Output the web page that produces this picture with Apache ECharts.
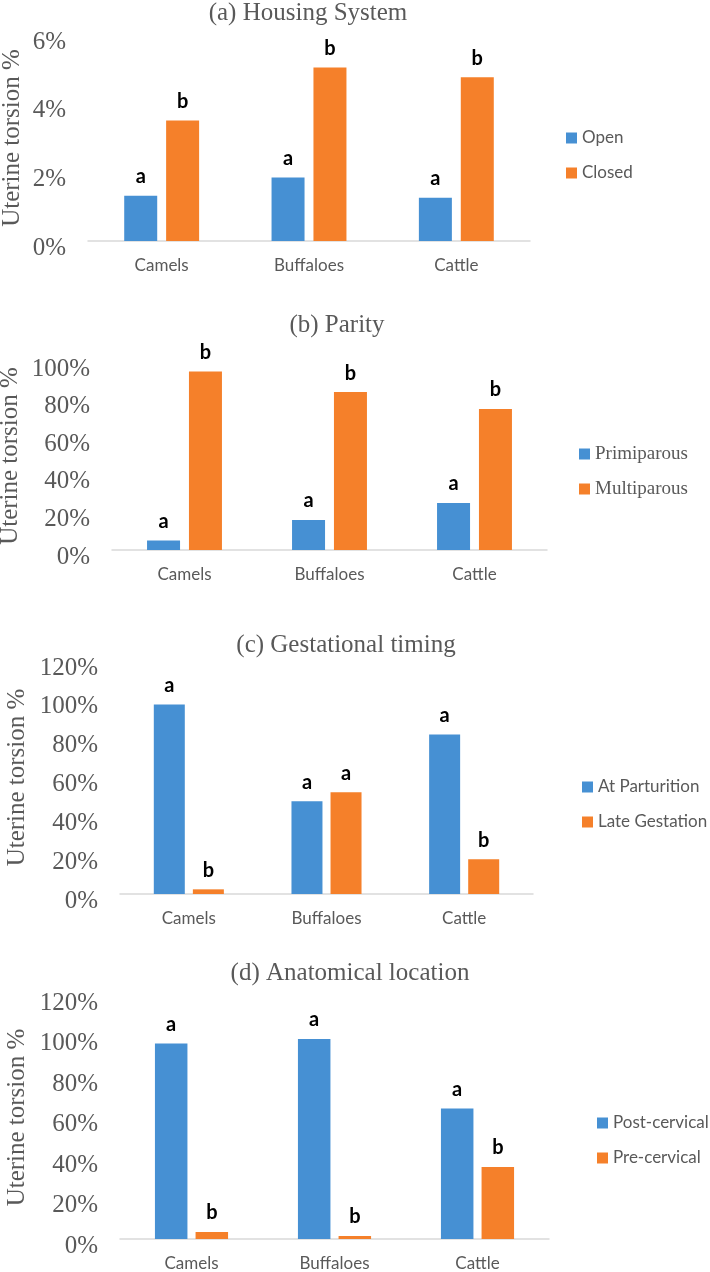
<!DOCTYPE html>
<html>
<head>
<meta charset="utf-8">
<script src="https://cdn.jsdelivr.net/npm/echarts@6/dist/echarts.min.js"></script>
<style>
html, body { margin: 0; padding: 0; background: #fff; }
#chart { width: 710px; height: 1272px; }
</style>
</head>
<body>
<div id="chart"></div>
<script>
var categories = ['Camels', 'Buffaloes', 'Cattle'];

// (a) housing system
var housingNames = ['Open', 'Closed'];
var housingOpen = [1.32, 1.85, 1.26];
var housingClosed = [3.51, 5.05, 4.77];
var housingOpenLetters = ['a', 'a', 'a'];
var housingClosedLetters = ['b', 'b', 'b'];
var housingTicks = [0, 6, 2];

// (b) parity
var parityNames = ['Primiparous', 'Multiparous'];
var parityPrimi = [5, 16, 25];
var parityMulti = [95, 84, 75];
var parityPrimiLetters = ['a', 'a', 'a'];
var parityMultiLetters = ['b', 'b', 'b'];
var parityTicks = [0, 100, 20];

// (c) gestational timing
var timingNames = ['At Parturition', 'Late Gestation'];
var timingBirth = [97.6, 47.8, 82.2];
var timingLate = [2.4, 52.4, 17.9];
var timingBirthLetters = ['a', 'a', 'a'];
var timingLateLetters = ['b', 'a', 'b'];
var timingTicks = [0, 120, 20];

// (d) anatomical location
var locationNames = ['Post-cervical', 'Pre-cervical'];
var locationPost = [96.5, 98.8, 64.4];
var locationPre = [3.5, 1.5, 35.6];
var locationPostLetters = ['a', 'a', 'a'];
var locationPreLetters = ['b', 'b', 'b'];
var locationTicks = [0, 120, 20];

var BLUE = '#4690d3';
var ORANGE = '#f5802a';
var GREY = '#595959';
var SERIF = '"Liberation Serif", "Times New Roman", serif';
var SANS = 'Lato, "Liberation Sans", sans-serif';

var panels = [
	{ title: '(a) Housing System', names: housingNames, data: [housingOpen, housingClosed],
	  letters: [housingOpenLetters, housingClosedLetters], ticks: housingTicks,
	  grid: { left: 88, right: 180, top: 35, height: 206 }, titleX: 308, titleY: 13,
	  legendX: 566, legendY: 128, legendFont: SANS, legendSize: 17, nameGap: 63, barWidth: 33, barGap: '27%' },
	{ title: '(b) Parity', names: parityNames, data: [parityPrimi, parityMulti],
	  letters: [parityPrimiLetters, parityMultiLetters], ticks: parityTicks,
	  grid: { left: 112, right: 163, top: 362, height: 188 }, titleX: 337, titleY: 325,
	  legendX: 579, legendY: 444, legendFont: SERIF, legendSize: 19, nameGap: 89, barWidth: 33, barGap: '27%' },
	{ title: '(c) Gestational timing', names: timingNames, data: [timingBirth, timingLate],
	  letters: [timingBirthLetters, timingLateLetters], ticks: timingTicks,
	  grid: { left: 120, right: 177, top: 661, height: 233 }, titleX: 346, titleY: 645,
	  legendX: 582, legendY: 777, legendFont: SANS, legendSize: 17, nameGap: 90, barWidth: 31, barGap: '26%' },
	{ title: '(d) Anatomical location', names: locationNames, data: [locationPost, locationPre],
	  letters: [locationPostLetters, locationPreLetters], ticks: locationTicks,
	  grid: { left: 120, right: 161, top: 996, height: 243 }, titleX: 350, titleY: 973,
	  legendX: 597, legendY: 1113, legendFont: SANS, legendSize: 17, nameGap: 90, barWidth: 32.5, barGap: '25%' }
];

var option = {
	backgroundColor: '#fff',
	animation: false,
	grid: [], xAxis: [], yAxis: [], legend: [], series: [], graphic: []
};

panels.forEach(function (p, i) {
	var g = p.grid;
	option.grid.push({ left: g.left, right: g.right, top: g.top, height: g.height,
		containLabel: false, outerBoundsMode: 'none' });
	option.graphic.push({
		type: 'text', x: p.titleX, y: p.titleY,
		style: { text: p.title, fill: GREY, font: '25px ' + SERIF, align: 'center', verticalAlign: 'middle' }
	});
	option.xAxis.push({
		type: 'category', gridIndex: i, data: categories,
		axisLine: { lineStyle: { color: '#d9d9d9', width: 1.5 } },
		axisTick: { show: false },
		axisLabel: { color: GREY, fontFamily: SANS, fontSize: 17, margin: 16 }
	});
	option.yAxis.push({
		type: 'value', gridIndex: i, min: p.ticks[0], max: p.ticks[1], interval: p.ticks[2],
		name: 'Uterine torsion %', nameLocation: 'middle', nameGap: p.nameGap, nameRotate: 90,
		nameMoveOverlap: false,
		nameTextStyle: { color: GREY, fontFamily: SERIF, fontSize: 25 },
		splitLine: { show: false },
		axisLine: { show: false },
		axisTick: { show: false },
		axisLabel: { formatter: '{value}%', color: GREY, fontFamily: SERIF, fontSize: 25, margin: 22,
			verticalAlign: 'top', lineHeight: 14 }
	});
	option.legend.push({
		data: p.names, orient: 'vertical', left: p.legendX, top: p.legendY,
		icon: 'rect', itemWidth: 11, itemHeight: 11, itemGap: 15, padding: 0,
		textStyle: { color: GREY, fontFamily: p.legendFont, fontSize: p.legendSize, lineHeight: 20 }
	});
	[BLUE, ORANGE].forEach(function (col, k) {
		var letters = p.letters[k];
		option.series.push({
			type: 'bar', name: p.names[k], xAxisIndex: i, yAxisIndex: i,
			data: p.data[k], barWidth: p.barWidth, barGap: p.barGap,
			itemStyle: { color: col },
			label: {
				show: true, position: 'top', distance: 9, color: '#000',
				fontFamily: SANS, fontWeight: 'bold', fontSize: 20,
				formatter: function (d) { return letters[d.dataIndex]; }
			}
		});
	});
});

var chart = echarts.init(document.getElementById('chart'));
chart.setOption(option);
</script>
</body>
</html>
